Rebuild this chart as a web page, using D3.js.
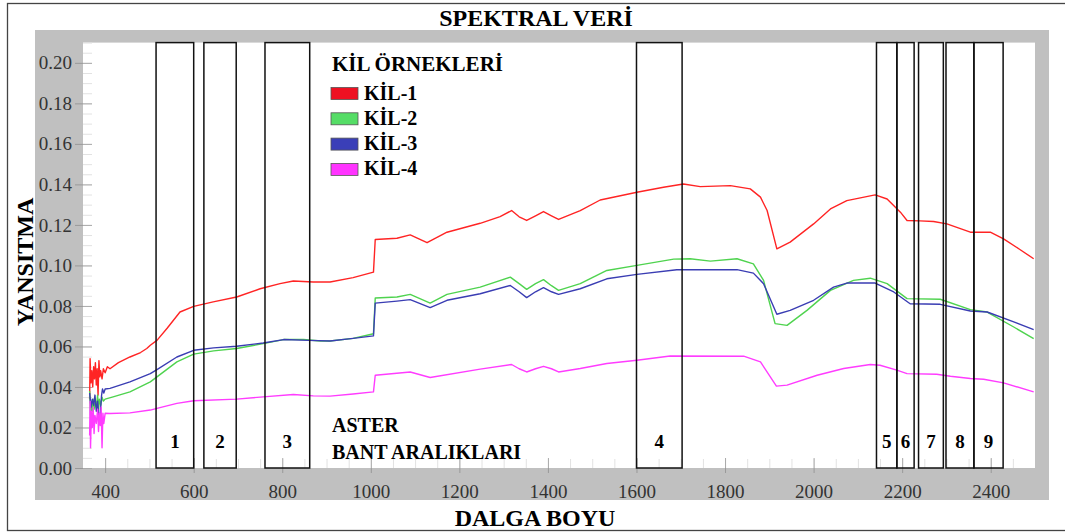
<!DOCTYPE html>
<html>
<head>
<meta charset="utf-8">
<script src="https://cdn.jsdelivr.net/npm/d3@7"></script>
<style>
  body { margin: 0; background: #fff; }
  svg { display: block; font-family: "Liberation Serif", "Times New Roman", serif; }
  svg text { font-family: "Liberation Serif", "Times New Roman", serif; }
</style>
</head>
<body>
<div id="chart"></div>
<script>
// Series names and colours
const seriesNames = ["KİL-1", "KİL-2", "KİL-3", "KİL-4"];
const seriesColors = ["#ff2424", "#4fd34f", "#3a3db3", "#ff3cff"];
const swatchColors = ["#ee1122", "#55dd66", "#3a3fb8", "#ff33ff"];

// KİL-1 (wavelength nm, reflectance)
const kil1Wl = [365,366,368,370,372,374,376,378,380,382,384,386,388,390,393,396,400,405,411,430,456,480,494,502,517,540,569,600,644,697,750,795,825,870,908,960,1006,1010,1059,1089,1127,1172,1247,1292,1318,1335,1352,1372,1390,1408,1424,1473,1518,1601,1661,1706,1744,1812,1857,1880,1895,1917,1947,2000,2038,2075,2139,2166,2196,2211,2240,2271,2301,2354,2399,2429,2465,2497];
const kil1R = [0.034,0.054,0.042,0.048,0.040,0.050,0.044,0.052,0.041,0.049,0.036,0.053,0.045,0.048,0.044,0.049,0.047,0.050,0.049,0.052,0.0548,0.057,0.059,0.0606,0.063,0.069,0.077,0.0798,0.082,0.0844,0.0885,0.091,0.0923,0.0918,0.0918,0.094,0.0967,0.1128,0.1134,0.1151,0.1112,0.1164,0.1208,0.1241,0.1271,0.124,0.1222,0.1245,0.1266,0.1245,0.1227,0.1271,0.1323,0.1361,0.1386,0.1402,0.1389,0.1394,0.1378,0.1337,0.1271,0.1082,0.1115,0.1205,0.1279,0.132,0.1348,0.1328,0.1263,0.1222,0.122,0.1217,0.1205,0.1164,0.1164,0.1131,0.108,0.1033];

// KİL-2
const kil2Wl = [365,367,369,371,373,375,378,380,383,385,387,390,393,396,400,418,456,502,517,562,600,645,697,757,803,848,886,908,960,1006,1010,1059,1089,1134,1172,1247,1315,1335,1352,1372,1390,1408,1424,1473,1533,1601,1684,1721,1767,1827,1864,1887,1913,1940,1985,2038,2090,2128,2166,2211,2286,2354,2392,2452,2497];
const kil2R = [0.038,0.026,0.033,0.028,0.034,0.029,0.033,0.030,0.036,0.028,0.034,0.031,0.035,0.033,0.034,0.0351,0.0376,0.0425,0.045,0.0524,0.0562,0.0578,0.059,0.0614,0.0634,0.0634,0.0627,0.0627,0.064,0.0663,0.0839,0.0844,0.0857,0.0814,0.0857,0.0893,0.0942,0.091,0.0882,0.091,0.093,0.090,0.0877,0.091,0.0975,0.1,0.1031,0.1033,0.1021,0.1033,0.1008,0.0926,0.0713,0.0704,0.0778,0.0877,0.0926,0.0937,0.091,0.0836,0.0833,0.0782,0.077,0.0696,0.0639];

// KİL-3
const kil3Wl = [365,368,371,374,377,380,383,386,388,390,392,394,397,400,411,456,502,517,562,600,645,697,757,803,860,908,960,1006,1010,1059,1089,1134,1172,1247,1315,1335,1352,1372,1390,1408,1424,1473,1533,1601,1691,1827,1864,1887,1917,1947,2000,2045,2075,2139,2181,2218,2286,2354,2392,2452,2497];
const kil3R = [0.037,0.030,0.034,0.031,0.036,0.028,0.033,0.025,0.022,0.030,0.036,0.039,0.037,0.039,0.0393,0.0425,0.0466,0.0486,0.0548,0.0581,0.0593,0.0601,0.0617,0.0634,0.063,0.0627,0.064,0.0652,0.0814,0.0824,0.0831,0.0792,0.0828,0.086,0.0901,0.087,0.0841,0.087,0.089,0.087,0.0857,0.0885,0.0934,0.0956,0.0979,0.0979,0.0962,0.091,0.0759,0.0778,0.0828,0.0893,0.0913,0.0913,0.0869,0.0811,0.0808,0.0775,0.077,0.0721,0.0683];

// KİL-4
const kil4Wl = [365,366,367,369,371,373,375,377,380,383,385,387,389,391,393,395,397,400,411,456,502,517,562,600,697,757,825,870,908,960,1006,1010,1089,1134,1247,1318,1335,1352,1372,1390,1408,1424,1473,1533,1601,1676,1842,1880,1916,1940,2008,2068,2128,2150,2188,2211,2278,2309,2354,2384,2429,2497];
const kil4R = [0.016,0.033,0.010,0.028,0.020,0.030,0.017,0.026,0.022,0.029,0.018,0.027,0.021,0.030,0.010,0.027,0.022,0.027,0.0269,0.0272,0.0286,0.0294,0.0319,0.0332,0.034,0.0351,0.0363,0.0356,0.0355,0.0365,0.0376,0.0458,0.0474,0.0447,0.0488,0.0511,0.049,0.0474,0.049,0.0502,0.049,0.0474,0.0491,0.0516,0.0532,0.0553,0.0552,0.0524,0.0404,0.0409,0.0458,0.0491,0.0511,0.0507,0.0483,0.0466,0.0463,0.0453,0.0442,0.0438,0.042,0.0376];

// ASTER band ranges (nm)
const bandLabels = ["1","2","3","4","5","6","7","8","9"];
const bandStart = [515,623,761,1600,2142,2188,2237,2299,2362];
const bandEnd   = [600,696,862,1703,2188,2227,2293,2362,2428];

// Tick labels
const xTicks = [400,600,800,1000,1200,1400,1600,1800,2000,2200,2400];
const yTicks = [0,0.02,0.04,0.06,0.08,0.10,0.12,0.14,0.16,0.18,0.20];

const width = 1065, height = 532;
const svg = d3.select('#chart').append('svg')
    .attr('width', width)
    .attr('height', height);

const x = d3.scaleLinear().domain([350, 2500]).range([83, 1035]);
const y = d3.scaleLinear().domain([0, 0.21]).range([468, 42.6]);

// frame + gray panel + white plot area
svg.append('rect')
    .attr('x', 7.5).attr('y', 3.5)
    .attr('width', 1070).attr('height', 527)
    .attr('fill', 'none').attr('stroke', '#444').attr('stroke-width', 1.3);

svg.append('rect')
    .attr('x', 35).attr('y', 30)
    .attr('width', 1014).attr('height', 470)
    .attr('fill', '#c0c0c0');

svg.append('rect')
    .attr('x', x(350)).attr('y', y(0.21))
    .attr('width', x(2500) - x(350)).attr('height', y(0) - y(0.21))
    .attr('fill', '#fff');

svg.append('clipPath').attr('id', 'clip')
    .append('rect')
    .attr('x', x(350)).attr('y', y(0.21))
    .attr('width', x(2500) - x(350)).attr('height', y(0) - y(0.21));

// ticks ====================
const minorX = d3.range(400, 2500, 50);
const minorY = d3.range(0, 0.2101, 0.005);

function styleLabels(g) {
    g.attr('font-family', null).attr('font-size', null);
    g.selectAll('text')
        .attr('fill', '#333')
        .style('font-size', '19px')
        .style('font-family', '"Liberation Serif", "Times New Roman", serif');
}

svg.append('g')
    .attr('transform', `translate(0,${y(0)})`)
    .call(d3.axisTop(x).tickValues(minorX).tickSize(9).tickFormat(''))
    .call(g => g.select('.domain').remove())
    .call(g => g.selectAll('line').attr('stroke', '#e2e2e2'));

svg.append('g')
    .attr('transform', `translate(${x(350)},0)`)
    .call(d3.axisRight(y).tickValues(minorY).tickSize(9).tickFormat(''))
    .call(g => g.select('.domain').remove())
    .call(g => g.selectAll('line').attr('stroke', '#e2e2e2'));

// major x ticks cross the axis line
svg.append('g')
    .attr('transform', `translate(0,${y(0)})`)
    .call(d3.axisTop(x).tickValues(xTicks).tickSize(10).tickFormat(''))
    .call(g => g.select('.domain').remove())
    .call(g => g.selectAll('line').attr('stroke', '#aaa'));

svg.append('g')
    .attr('transform', `translate(0,${y(0)})`)
    .call(d3.axisBottom(x).tickValues(xTicks).tickSize(5).tickPadding(12).tickFormat(d3.format('d')))
    .call(g => g.select('.domain').remove())
    .call(g => g.selectAll('line').attr('stroke', '#999'))
    .call(styleLabels);

svg.append('g')
    .attr('transform', `translate(${x(350)},0)`)
    .call(d3.axisRight(y).tickValues(yTicks).tickSize(9).tickFormat(''))
    .call(g => g.select('.domain').remove())
    .call(g => g.selectAll('line').attr('stroke', '#aaa'));

svg.append('g')
    .attr('transform', `translate(${x(350)},0)`)
    .call(d3.axisLeft(y).tickValues(yTicks).tickSize(8).tickPadding(3).tickFormat(d3.format('.2f')))
    .call(g => g.select('.domain').remove())
    .call(g => g.selectAll('line').attr('stroke', '#999'))
    .call(styleLabels);

// spectra ====================
const series = [
    d3.zip(kil1Wl, kil1R),
    d3.zip(kil2Wl, kil2R),
    d3.zip(kil3Wl, kil3R),
    d3.zip(kil4Wl, kil4R)
];

const line = d3.line()
    .x(d => x(d[0]))
    .y(d => y(d[1]));

const lines = svg.append('g').attr('clip-path', 'url(#clip)');
series.forEach((s, i) => {
    lines.append('path')
        .attr('d', line(s))
        .attr('fill', 'none')
        .attr('stroke', seriesColors[i])
        .attr('stroke-width', 1.4)
        .attr('stroke-linejoin', 'round');
});

// ASTER band boxes ====================
const bands = bandLabels.map((b, i) => ({ label: b, a: bandStart[i], b: bandEnd[i] }));

svg.append('g').selectAll('rect')
    .data(bands)
    .join('rect')
    .attr('x', d => x(d.a))
    .attr('y', y(0.21))
    .attr('width', d => x(d.b) - x(d.a))
    .attr('height', y(0) - y(0.21))
    .attr('fill', 'none')
    .attr('stroke', '#111')
    .attr('stroke-width', 1.5);

svg.append('g').selectAll('text')
    .data(bands)
    .join('text')
    .attr('x', d => x((d.a + d.b) / 2))
    .attr('y', 448)
    .attr('text-anchor', 'middle')
    .style('font-size', '19px')
    .style('font-weight', 'bold')
    .text(d => d.label);

svg.append('text')
    .attr('x', 332).attr('y', 432)
    .style('font-size', '20px').style('font-weight', 'bold')
    .text('ASTER');
svg.append('text')
    .attr('x', 332).attr('y', 459)
    .style('font-size', '20px').style('font-weight', 'bold')
    .text('BANT ARALIKLARI');

// legend ====================
svg.append('text')
    .attr('x', 332).attr('y', 71)
    .style('font-size', '21px').style('font-weight', 'bold')
    .text('KİL ÖRNEKLERİ');

const legend = svg.append('g').selectAll('g')
    .data(seriesNames)
    .join('g')
    .attr('transform', (d, i) => `translate(331,${87.5 + i * 25.3})`);

legend.append('rect')
    .attr('width', 27).attr('height', 12)
    .attr('fill', (d, i) => swatchColors[i])
    .attr('stroke', '#555').attr('stroke-width', 0.8);

legend.append('text')
    .attr('x', 33).attr('y', 12)
    .style('font-size', '20px').style('font-weight', 'bold')
    .text(d => d);

// titles ====================
svg.append('text')
    .attr('x', 536).attr('y', 26)
    .attr('text-anchor', 'middle')
    .style('font-size', '24px').style('font-weight', 'bold')
    .text('SPEKTRAL VERİ');

svg.append('text')
    .attr('x', 535).attr('y', 526)
    .attr('text-anchor', 'middle')
    .style('font-size', '24px').style('font-weight', 'bold')
    .text('DALGA BOYU');

svg.append('text')
    .attr('transform', 'translate(33,262) rotate(-90)')
    .attr('text-anchor', 'middle')
    .style('font-size', '24px').style('font-weight', 'bold')
    .text('YANSITMA');
</script>
</body>
</html>
